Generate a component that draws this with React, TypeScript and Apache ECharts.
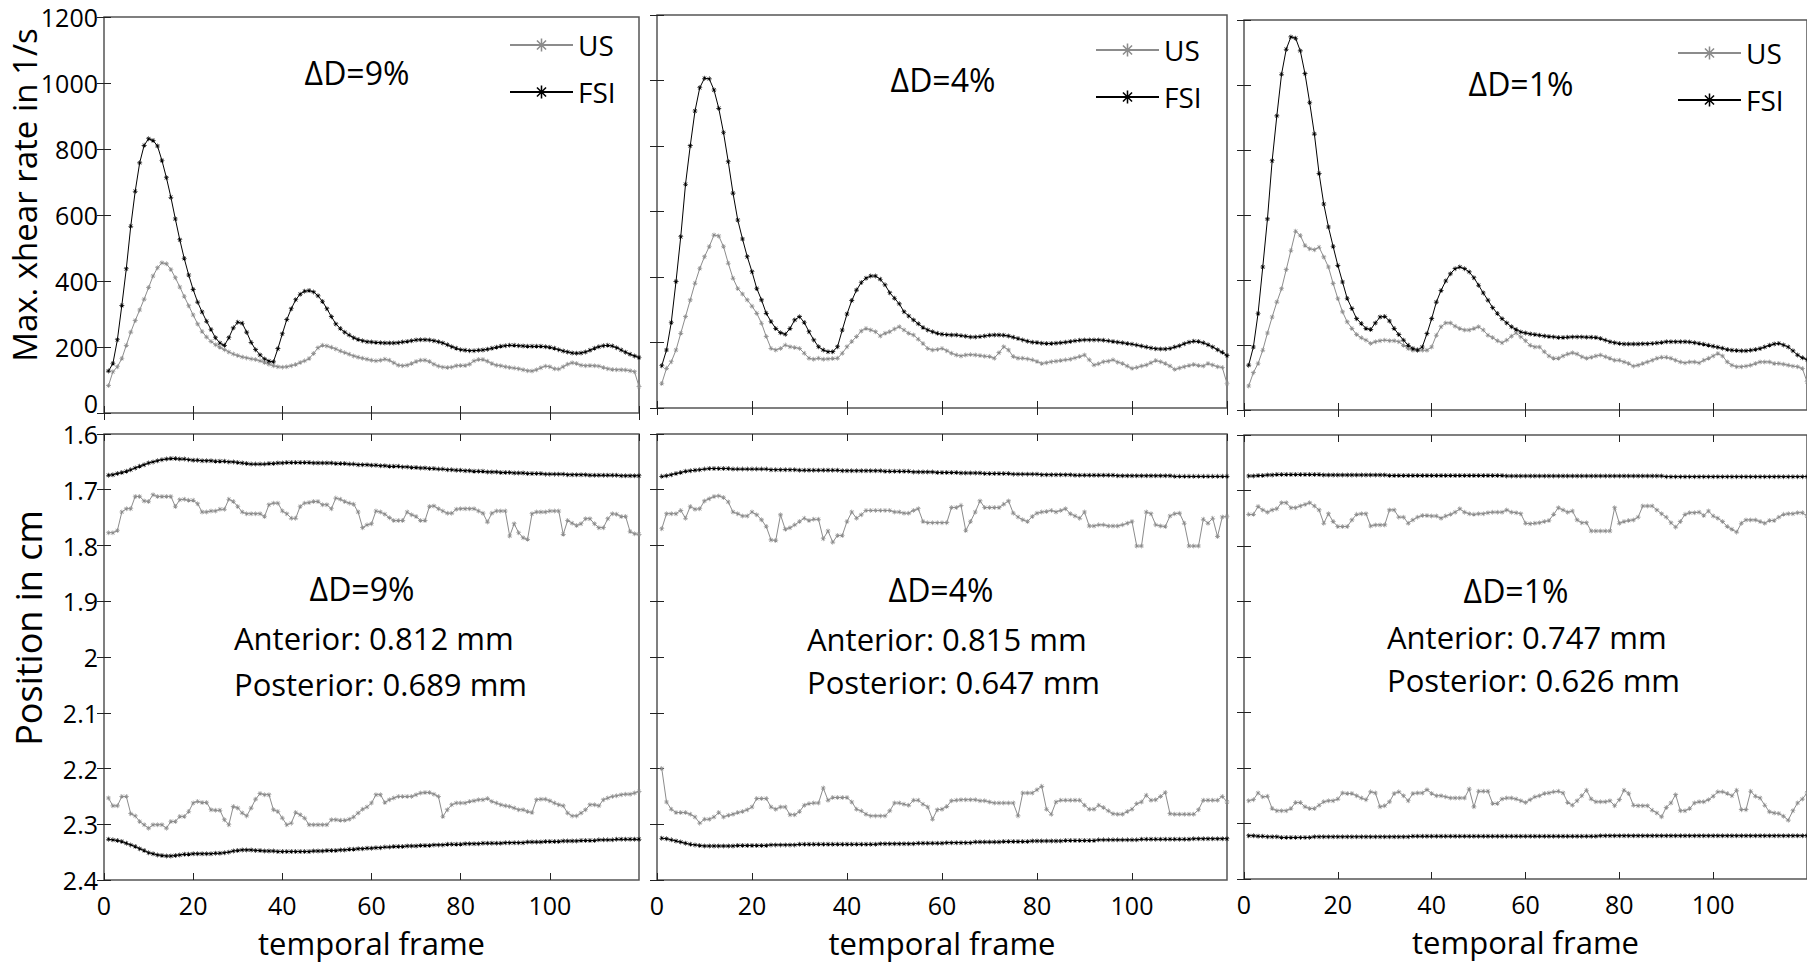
import React, { useEffect, useRef } from "react";
import * as echarts from "echarts";

// ---------------- data ----------------
const FRAMES: number[] = Array.from({ length: 120 }, (_, i) => i + 1);
const FRAME_TICKS = [0, 20, 40, 60, 80, 100, 120];
const RATE_TICKS = [0, 200, 400, 600, 800, 1000, 1200];
const POSITION_TICKS = [1.6, 1.7, 1.8, 1.9, 2.0, 2.1, 2.2, 2.3, 2.4];

const DELTA_LABELS = ["ΔD=9%", "ΔD=4%", "ΔD=1%"];
const ANTERIOR_MM = ["0.812", "0.815", "0.747"];
const POSTERIOR_MM = ["0.689", "0.647", "0.626"];
const SERIES_NAMES = ["US", "FSI"];

// Max. shear rate (1/s), ΔD = 9 %
const US_RATE_9 = [
  83, 125, 140, 165, 205, 245, 280, 312, 345, 380,
  415, 440, 455, 452, 435, 410, 382, 353, 325, 297,
  270, 247, 230, 217, 207, 199, 192, 185, 179, 174,
  170, 167, 164, 162, 158, 153, 148, 143, 140, 139,
  140, 143, 147, 153, 158, 165, 180, 198, 205, 203,
  199, 194, 188, 183, 178, 173, 169, 166, 163, 160,
  158, 160, 163, 160, 152, 145, 143, 145, 150, 156,
  160, 160, 156, 148, 142, 139, 138, 139, 143, 144,
  144, 148, 158, 162, 162, 157, 150, 145, 143, 140,
  138, 136, 134, 131, 128, 127, 131, 137, 142, 140,
  134, 133, 140, 148, 152, 150, 145, 143, 144, 143,
  142, 138, 134, 132, 131, 131, 130, 128, 125, 80,
];
const FSI_RATE_9 = [
  127, 150, 222, 326, 437, 566, 672, 758, 811, 831,
  826, 809, 765, 713, 654, 588, 525, 468, 418, 374,
  336, 306, 278, 253, 228, 212, 205, 228, 258, 275,
  272, 245, 214, 192, 176, 164, 157, 155, 195, 240,
  283, 316, 343, 360, 369, 371, 367, 355, 338, 316,
  292, 270, 256, 245, 236, 228, 223, 219, 216, 215,
  214, 213, 212, 212, 212, 213, 215, 217, 219, 221,
  222, 222, 221, 219, 216, 212, 207, 201, 196, 192,
  190, 189, 189, 190, 191, 193, 196, 199, 202, 204,
  205, 205, 204, 203, 202, 202, 202, 202, 201, 199,
  196, 192, 188, 185, 182, 181, 182, 185, 190, 196,
  201, 204, 205, 203, 198, 191, 184, 178, 173, 168,
];
// ΔD = 4 %
const US_RATE_4 = [
  75, 121, 141, 177, 228, 279, 330, 381, 426, 462,
  493, 528, 525, 493, 442, 396, 365, 348, 330, 311,
  289, 259, 218, 182, 177, 182, 192, 187, 185, 182,
  167, 152, 149, 152, 149, 150, 151, 152, 167, 187,
  203, 218, 235, 243, 238, 233, 220, 228, 233, 241,
  248, 238, 228, 223, 210, 197, 182, 177, 179, 182,
  175, 167, 162, 159, 162, 163, 162, 160, 158, 157,
  152, 169, 187, 177, 157, 152, 152, 150, 147, 142,
  136, 138, 141, 143, 145, 147, 149, 153, 157, 162,
  147, 131, 135, 141, 143, 147, 140, 136, 128, 121,
  124, 128, 131, 138, 145, 141, 136, 128, 118, 122,
  126, 130, 133, 130, 128, 136, 131, 126, 124, 75,
];
const FSI_RATE_4 = [
  129, 177, 261, 386, 523, 683, 801, 907, 978, 1007,
  1005, 971, 915, 841, 752, 656, 574, 516, 462, 416,
  365, 330, 289, 264, 243, 230, 225, 243, 269, 279,
  261, 233, 208, 187, 177, 172, 172, 187, 238, 287,
  328, 360, 383, 396, 403, 403, 393, 376, 352, 335,
  318, 294, 281, 269, 257, 246, 238, 233, 228, 225,
  224, 223, 223, 221, 219, 217, 217, 218, 220, 222,
  223, 223, 222, 220, 216, 212, 208, 204, 201, 200,
  198, 197, 197, 198, 199, 201, 203, 205, 207, 208,
  208, 208, 208, 207, 205, 203, 201, 199, 197, 195,
  192, 189, 186, 183, 181, 180, 180, 182, 186, 190,
  196, 201, 204, 203, 199, 193, 186, 178, 170, 160,
];
// ΔD = 1 %
const US_RATE_1 = [
  74, 115, 143, 184, 237, 286, 332, 373, 432, 491,
  550, 537, 506, 496, 493, 501, 471, 440, 389, 343,
  302, 271, 251, 232, 222, 215, 205, 210, 213, 215,
  213, 213, 210, 199, 189, 184, 186, 184, 184, 194,
  230, 256, 268, 268, 258, 251, 246, 246, 251, 256,
  246, 230, 223, 213, 207, 215, 227, 237, 225, 213,
  199, 194, 194, 179, 166, 159, 159, 166, 172, 176,
  172, 164, 159, 162, 166, 169, 164, 159, 153, 153,
  148, 143, 135, 138, 143, 148, 153, 159, 162, 162,
  159, 153, 148, 145, 148, 148, 145, 153, 159, 166,
  174, 166, 148, 138, 133, 133, 135, 138, 143, 148,
  148, 148, 143, 143, 141, 138, 135, 133, 128, 87,
];
const FSI_RATE_1 = [
  138, 194, 297, 440, 588, 767, 905, 1033, 1110, 1148,
  1144, 1105, 1035, 946, 849, 728, 634, 563, 503, 445,
  394, 343, 312, 281, 266, 251, 248, 268, 286, 288,
  274, 251, 232, 215, 199, 189, 184, 194, 235, 281,
  332, 368, 397, 419, 435, 440, 435, 425, 407, 384,
  360, 338, 315, 297, 281, 268, 256, 248, 240, 237,
  234, 232, 230, 228, 226, 225, 223, 223, 224, 225,
  225, 225, 224, 224, 223, 220, 215, 210, 207, 205,
  203, 203, 203, 203, 204, 204, 205, 206, 208, 210,
  210, 210, 210, 210, 209, 207, 205, 202, 199, 196,
  193, 190, 186, 184, 183, 182, 182, 184, 186, 189,
  194, 199, 203, 205, 200, 194, 182, 169, 161, 155,
];

// Wall position (cm), ΔD = 9 %
const US_ANT_9 = [
  1.777, 1.777, 1.773, 1.740, 1.734, 1.734, 1.712, 1.712, 1.720, 1.721,
  1.709, 1.712, 1.712, 1.712, 1.712, 1.730, 1.718, 1.717, 1.719, 1.719,
  1.725, 1.740, 1.740, 1.738, 1.738, 1.735, 1.735, 1.717, 1.721, 1.730,
  1.740, 1.743, 1.743, 1.743, 1.743, 1.748, 1.727, 1.724, 1.724, 1.738,
  1.743, 1.751, 1.751, 1.730, 1.724, 1.723, 1.721, 1.721, 1.727, 1.727,
  1.734, 1.715, 1.717, 1.721, 1.724, 1.726, 1.740, 1.768, 1.763, 1.761,
  1.738, 1.740, 1.744, 1.750, 1.755, 1.755, 1.755, 1.740, 1.745, 1.748,
  1.755, 1.755, 1.730, 1.729, 1.734, 1.738, 1.742, 1.742, 1.735, 1.734,
  1.734, 1.734, 1.734, 1.738, 1.742, 1.758, 1.742, 1.738, 1.738, 1.738,
  1.783, 1.761, 1.777, 1.786, 1.789, 1.743, 1.740, 1.740, 1.740, 1.738,
  1.738, 1.738, 1.780, 1.755, 1.760, 1.764, 1.761, 1.752, 1.752, 1.761,
  1.768, 1.768, 1.752, 1.743, 1.744, 1.748, 1.748, 1.775, 1.779, 1.780,
];
const FSI_ANT_9 = [
  1.674, 1.673, 1.671, 1.669, 1.667, 1.664, 1.661, 1.658, 1.655, 1.652,
  1.650, 1.648, 1.646, 1.645, 1.644, 1.644, 1.645, 1.645, 1.646, 1.647,
  1.647, 1.648, 1.648, 1.648, 1.649, 1.649, 1.649, 1.650, 1.650, 1.651,
  1.652, 1.653, 1.654, 1.654, 1.654, 1.654, 1.653, 1.653, 1.652, 1.652,
  1.651, 1.651, 1.651, 1.651, 1.651, 1.651, 1.652, 1.652, 1.652, 1.652,
  1.652, 1.653, 1.653, 1.653, 1.654, 1.654, 1.655, 1.655, 1.655, 1.656,
  1.656, 1.657, 1.657, 1.658, 1.658, 1.658, 1.659, 1.659, 1.660, 1.660,
  1.661, 1.661, 1.662, 1.662, 1.663, 1.663, 1.664, 1.664, 1.665, 1.665,
  1.666, 1.666, 1.667, 1.667, 1.667, 1.668, 1.668, 1.668, 1.669, 1.669,
  1.669, 1.670, 1.670, 1.670, 1.671, 1.671, 1.671, 1.671, 1.672, 1.672,
  1.672, 1.672, 1.672, 1.673, 1.673, 1.673, 1.673, 1.673, 1.674, 1.674,
  1.674, 1.674, 1.674, 1.674, 1.674, 1.675, 1.675, 1.675, 1.675, 1.675,
];
const US_POST_9 = [
  2.253, 2.267, 2.267, 2.250, 2.250, 2.281, 2.285, 2.295, 2.301, 2.307,
  2.301, 2.301, 2.301, 2.307, 2.295, 2.295, 2.286, 2.286, 2.277, 2.262,
  2.259, 2.261, 2.261, 2.274, 2.275, 2.275, 2.292, 2.301, 2.268, 2.271,
  2.280, 2.285, 2.271, 2.255, 2.245, 2.247, 2.247, 2.274, 2.277, 2.289,
  2.301, 2.298, 2.279, 2.283, 2.289, 2.301, 2.301, 2.301, 2.301, 2.301,
  2.292, 2.292, 2.293, 2.293, 2.291, 2.287, 2.280, 2.273, 2.269, 2.262,
  2.247, 2.247, 2.261, 2.256, 2.253, 2.250, 2.250, 2.250, 2.250, 2.247,
  2.244, 2.243, 2.243, 2.246, 2.250, 2.286, 2.274, 2.265, 2.262, 2.262,
  2.262, 2.259, 2.258, 2.256, 2.256, 2.254, 2.259, 2.262, 2.265, 2.267,
  2.268, 2.271, 2.274, 2.274, 2.277, 2.279, 2.256, 2.255, 2.255, 2.258,
  2.262, 2.265, 2.267, 2.280, 2.285, 2.285, 2.280, 2.274, 2.265, 2.265,
  2.267, 2.256, 2.253, 2.250, 2.249, 2.247, 2.246, 2.246, 2.244, 2.241,
];
const FSI_POST_9 = [
  2.327, 2.328, 2.329, 2.331, 2.334, 2.337, 2.340, 2.344, 2.347, 2.351,
  2.353, 2.355, 2.356, 2.357, 2.357, 2.356, 2.355, 2.354, 2.354, 2.353,
  2.353, 2.353, 2.353, 2.353, 2.352, 2.352, 2.351, 2.350, 2.348, 2.347,
  2.346, 2.346, 2.346, 2.347, 2.347, 2.348, 2.348, 2.348, 2.349, 2.349,
  2.349, 2.349, 2.349, 2.349, 2.349, 2.349, 2.348, 2.348, 2.348, 2.347,
  2.347, 2.347, 2.346, 2.346, 2.345, 2.345, 2.344, 2.344, 2.343, 2.343,
  2.342, 2.342, 2.341, 2.341, 2.340, 2.340, 2.340, 2.339, 2.339, 2.339,
  2.338, 2.338, 2.338, 2.337, 2.337, 2.337, 2.336, 2.336, 2.336, 2.336,
  2.335, 2.335, 2.335, 2.335, 2.334, 2.334, 2.334, 2.334, 2.334, 2.333,
  2.333, 2.333, 2.333, 2.333, 2.332, 2.332, 2.332, 2.332, 2.331, 2.331,
  2.331, 2.331, 2.330, 2.330, 2.330, 2.330, 2.329, 2.329, 2.329, 2.329,
  2.328, 2.328, 2.328, 2.328, 2.327, 2.327, 2.327, 2.327, 2.327, 2.327,
];
// ΔD = 4 %
const US_ANT_4 = [
  1.770, 1.743, 1.743, 1.743, 1.737, 1.751, 1.730, 1.735, 1.734, 1.720,
  1.716, 1.712, 1.711, 1.714, 1.722, 1.740, 1.743, 1.747, 1.747, 1.740,
  1.745, 1.754, 1.766, 1.790, 1.791, 1.745, 1.771, 1.768, 1.763, 1.757,
  1.751, 1.755, 1.753, 1.753, 1.788, 1.774, 1.794, 1.782, 1.782, 1.757,
  1.740, 1.751, 1.745, 1.737, 1.737, 1.737, 1.737, 1.737, 1.737, 1.740,
  1.740, 1.742, 1.742, 1.737, 1.734, 1.757, 1.759, 1.759, 1.759, 1.759,
  1.759, 1.732, 1.732, 1.728, 1.773, 1.757, 1.740, 1.720, 1.732, 1.732,
  1.732, 1.732, 1.726, 1.720, 1.742, 1.749, 1.754, 1.757, 1.748, 1.742,
  1.740, 1.739, 1.737, 1.740, 1.737, 1.734, 1.743, 1.747, 1.751, 1.740,
  1.765, 1.765, 1.763, 1.763, 1.765, 1.765, 1.765, 1.763, 1.760, 1.757,
  1.801, 1.801, 1.740, 1.743, 1.763, 1.765, 1.766, 1.747, 1.743, 1.742,
  1.760, 1.801, 1.801, 1.801, 1.753, 1.760, 1.751, 1.784, 1.749, 1.748,
];
const FSI_ANT_4 = [
  1.676, 1.675, 1.673, 1.671, 1.669, 1.667, 1.666, 1.665, 1.664, 1.663,
  1.662, 1.662, 1.662, 1.662, 1.662, 1.663, 1.663, 1.663, 1.663, 1.663,
  1.663, 1.663, 1.663, 1.664, 1.664, 1.664, 1.664, 1.664, 1.664, 1.665,
  1.665, 1.665, 1.665, 1.665, 1.665, 1.665, 1.665, 1.665, 1.666, 1.666,
  1.666, 1.666, 1.666, 1.666, 1.666, 1.666, 1.666, 1.667, 1.667, 1.667,
  1.667, 1.667, 1.667, 1.668, 1.668, 1.668, 1.668, 1.668, 1.669, 1.669,
  1.669, 1.669, 1.669, 1.670, 1.670, 1.670, 1.670, 1.670, 1.671, 1.671,
  1.671, 1.671, 1.671, 1.671, 1.672, 1.672, 1.672, 1.672, 1.672, 1.672,
  1.673, 1.673, 1.673, 1.673, 1.673, 1.673, 1.673, 1.674, 1.674, 1.674,
  1.674, 1.674, 1.674, 1.674, 1.674, 1.674, 1.675, 1.675, 1.675, 1.675,
  1.675, 1.675, 1.675, 1.675, 1.675, 1.675, 1.675, 1.675, 1.676, 1.676,
  1.676, 1.676, 1.676, 1.676, 1.676, 1.676, 1.676, 1.676, 1.676, 1.676,
];
const US_POST_4 = [
  2.200, 2.260, 2.273, 2.279, 2.279, 2.279, 2.282, 2.287, 2.298, 2.291,
  2.291, 2.287, 2.279, 2.287, 2.284, 2.282, 2.279, 2.277, 2.274, 2.269,
  2.254, 2.254, 2.254, 2.269, 2.273, 2.269, 2.269, 2.283, 2.283, 2.277,
  2.266, 2.263, 2.262, 2.262, 2.235, 2.257, 2.252, 2.252, 2.252, 2.252,
  2.260, 2.273, 2.276, 2.282, 2.285, 2.285, 2.285, 2.285, 2.276, 2.262,
  2.262, 2.264, 2.266, 2.257, 2.257, 2.264, 2.269, 2.291, 2.274, 2.273,
  2.268, 2.258, 2.257, 2.256, 2.256, 2.256, 2.256, 2.258, 2.258, 2.260,
  2.262, 2.262, 2.262, 2.262, 2.262, 2.285, 2.244, 2.244, 2.244, 2.238,
  2.232, 2.273, 2.282, 2.260, 2.257, 2.257, 2.257, 2.257, 2.257, 2.266,
  2.273, 2.273, 2.266, 2.270, 2.276, 2.281, 2.282, 2.282, 2.277, 2.273,
  2.263, 2.260, 2.248, 2.257, 2.256, 2.250, 2.243, 2.281, 2.282, 2.282,
  2.282, 2.282, 2.282, 2.274, 2.257, 2.257, 2.257, 2.257, 2.250, 2.260,
];
const FSI_POST_4 = [
  2.325, 2.326, 2.328, 2.330, 2.332, 2.334, 2.336, 2.337, 2.338, 2.339,
  2.339, 2.339, 2.339, 2.339, 2.339, 2.339, 2.338, 2.338, 2.338, 2.338,
  2.338, 2.338, 2.338, 2.337, 2.337, 2.337, 2.337, 2.337, 2.337, 2.336,
  2.336, 2.336, 2.336, 2.336, 2.336, 2.336, 2.336, 2.336, 2.336, 2.336,
  2.336, 2.336, 2.336, 2.336, 2.336, 2.336, 2.335, 2.335, 2.335, 2.335,
  2.335, 2.335, 2.335, 2.335, 2.334, 2.334, 2.334, 2.334, 2.334, 2.334,
  2.333, 2.333, 2.333, 2.333, 2.333, 2.333, 2.332, 2.332, 2.332, 2.332,
  2.332, 2.332, 2.331, 2.331, 2.331, 2.331, 2.331, 2.331, 2.330, 2.330,
  2.330, 2.330, 2.330, 2.330, 2.330, 2.329, 2.329, 2.329, 2.329, 2.329,
  2.329, 2.329, 2.328, 2.328, 2.328, 2.328, 2.328, 2.328, 2.328, 2.328,
  2.328, 2.327, 2.327, 2.327, 2.327, 2.327, 2.327, 2.327, 2.327, 2.327,
  2.327, 2.327, 2.326, 2.326, 2.326, 2.326, 2.326, 2.326, 2.326, 2.326,
];
// ΔD = 1 %
const US_ANT_1 = [
  1.743, 1.743, 1.729, 1.735, 1.739, 1.735, 1.733, 1.722, 1.722, 1.731,
  1.731, 1.728, 1.725, 1.722, 1.728, 1.735, 1.759, 1.742, 1.756, 1.765,
  1.765, 1.765, 1.753, 1.743, 1.742, 1.742, 1.764, 1.762, 1.762, 1.762,
  1.735, 1.735, 1.748, 1.748, 1.759, 1.753, 1.748, 1.745, 1.745, 1.746,
  1.746, 1.750, 1.746, 1.743, 1.739, 1.733, 1.739, 1.742, 1.743, 1.742,
  1.742, 1.740, 1.739, 1.739, 1.739, 1.735, 1.739, 1.740, 1.742, 1.759,
  1.760, 1.759, 1.758, 1.756, 1.754, 1.743, 1.731, 1.735, 1.739, 1.737,
  1.753, 1.758, 1.758, 1.773, 1.773, 1.773, 1.773, 1.773, 1.731, 1.759,
  1.756, 1.754, 1.753, 1.748, 1.728, 1.728, 1.728, 1.735, 1.742, 1.748,
  1.758, 1.766, 1.756, 1.743, 1.740, 1.740, 1.739, 1.745, 1.737, 1.746,
  1.750, 1.756, 1.765, 1.770, 1.775, 1.759, 1.753, 1.753, 1.753, 1.756,
  1.759, 1.754, 1.754, 1.748, 1.743, 1.742, 1.742, 1.740, 1.740, 1.746,
];
const FSI_ANT_1 = [
  1.674, 1.674, 1.673, 1.673, 1.672, 1.672, 1.671, 1.671, 1.671, 1.671,
  1.671, 1.671, 1.671, 1.671, 1.671, 1.671, 1.672, 1.672, 1.672, 1.672,
  1.672, 1.672, 1.672, 1.672, 1.672, 1.672, 1.672, 1.672, 1.672, 1.672,
  1.673, 1.673, 1.673, 1.673, 1.673, 1.673, 1.673, 1.673, 1.673, 1.673,
  1.673, 1.673, 1.673, 1.673, 1.673, 1.673, 1.673, 1.673, 1.673, 1.673,
  1.673, 1.673, 1.673, 1.673, 1.673, 1.674, 1.674, 1.674, 1.674, 1.674,
  1.674, 1.674, 1.674, 1.674, 1.674, 1.674, 1.674, 1.674, 1.674, 1.674,
  1.674, 1.674, 1.674, 1.674, 1.674, 1.674, 1.674, 1.674, 1.674, 1.674,
  1.674, 1.674, 1.674, 1.674, 1.674, 1.674, 1.674, 1.674, 1.674, 1.675,
  1.675, 1.675, 1.675, 1.675, 1.675, 1.675, 1.675, 1.675, 1.675, 1.675,
  1.675, 1.675, 1.675, 1.675, 1.675, 1.675, 1.675, 1.675, 1.675, 1.675,
  1.675, 1.675, 1.675, 1.675, 1.675, 1.675, 1.675, 1.675, 1.675, 1.675,
];
const US_POST_1 = [
  2.259, 2.257, 2.245, 2.252, 2.251, 2.273, 2.277, 2.277, 2.277, 2.273,
  2.262, 2.262, 2.270, 2.273, 2.273, 2.267, 2.261, 2.259, 2.259, 2.256,
  2.245, 2.246, 2.246, 2.250, 2.254, 2.257, 2.243, 2.245, 2.270, 2.268,
  2.261, 2.246, 2.243, 2.250, 2.259, 2.246, 2.245, 2.245, 2.239, 2.246,
  2.250, 2.250, 2.252, 2.254, 2.254, 2.254, 2.254, 2.238, 2.270, 2.242,
  2.242, 2.242, 2.264, 2.264, 2.256, 2.254, 2.254, 2.256, 2.259, 2.262,
  2.257, 2.252, 2.250, 2.246, 2.245, 2.243, 2.242, 2.245, 2.262, 2.267,
  2.259, 2.250, 2.240, 2.256, 2.261, 2.261, 2.261, 2.259, 2.268, 2.257,
  2.240, 2.246, 2.267, 2.268, 2.268, 2.268, 2.276, 2.281, 2.288, 2.271,
  2.263, 2.248, 2.277, 2.277, 2.273, 2.263, 2.261, 2.261, 2.257, 2.251,
  2.243, 2.243, 2.246, 2.250, 2.240, 2.275, 2.275, 2.242, 2.251, 2.254,
  2.267, 2.279, 2.281, 2.282, 2.287, 2.294, 2.277, 2.263, 2.256, 2.245,
];
const FSI_POST_1 = [
  2.322, 2.322, 2.323, 2.323, 2.324, 2.324, 2.324, 2.325, 2.325, 2.325,
  2.325, 2.325, 2.325, 2.325, 2.324, 2.324, 2.324, 2.324, 2.324, 2.324,
  2.324, 2.324, 2.324, 2.324, 2.324, 2.324, 2.324, 2.324, 2.324, 2.324,
  2.324, 2.324, 2.324, 2.324, 2.324, 2.323, 2.323, 2.323, 2.323, 2.323,
  2.323, 2.323, 2.323, 2.323, 2.323, 2.323, 2.323, 2.323, 2.323, 2.323,
  2.323, 2.323, 2.323, 2.323, 2.323, 2.323, 2.323, 2.323, 2.323, 2.323,
  2.323, 2.323, 2.323, 2.323, 2.323, 2.323, 2.323, 2.323, 2.323, 2.323,
  2.323, 2.323, 2.323, 2.323, 2.323, 2.322, 2.322, 2.322, 2.322, 2.322,
  2.322, 2.322, 2.322, 2.322, 2.322, 2.322, 2.322, 2.322, 2.322, 2.322,
  2.322, 2.322, 2.322, 2.322, 2.322, 2.322, 2.322, 2.322, 2.322, 2.322,
  2.322, 2.322, 2.322, 2.322, 2.322, 2.322, 2.322, 2.322, 2.322, 2.322,
  2.322, 2.322, 2.322, 2.322, 2.322, 2.322, 2.322, 2.322, 2.322, 2.322,
];

const US_RATES = [US_RATE_9, US_RATE_4, US_RATE_1];
const FSI_RATES = [FSI_RATE_9, FSI_RATE_4, FSI_RATE_1];
const US_ANTS = [US_ANT_9, US_ANT_4, US_ANT_1];
const FSI_ANTS = [FSI_ANT_9, FSI_ANT_4, FSI_ANT_1];
const US_POSTS = [US_POST_9, US_POST_4, US_POST_1];
const FSI_POSTS = [FSI_POST_9, FSI_POST_4, FSI_POST_1];

// ---------------- layout & style ----------------
const W = 1807;
const H = 963;
const FONT = "'Open Sans', 'Noto Sans', 'DejaVu Sans', sans-serif";
const FRAME_COLOR = "#555555";
const TICK_COLOR = "#222222";
const US_COLOR = "#8c8c8c";
const FSI_COLOR = "#000000";
const STAR =
  "path://M4.4 0L5.6 0L5.6 10L4.4 10Z M0 4.4L10 4.4L10 5.6L0 5.6Z M1.04 1.88L1.88 1.04L8.96 8.12L8.12 8.96Z M8.12 1.04L8.96 1.88L1.88 8.96L1.04 8.12Z";

const TOP_GRIDS = [
  { left: 104, top: 17, width: 535, height: 396 },
  { left: 657, top: 15, width: 570, height: 393 },
  { left: 1244, top: 20, width: 563, height: 390 },
];
const BOTTOM_GRIDS = [
  { left: 104, top: 434, width: 535, height: 446 },
  { left: 657, top: 434, width: 570, height: 446 },
  { left: 1244, top: 435, width: 563, height: 444 },
];
const LEGEND_POS = [
  { left: 509, top: 31 },
  { left: 1095, top: 36 },
  { left: 1677, top: 39 },
];
const TOP_LABEL_POS = [
  [357, 72],
  [943, 79],
  [1521, 83],
];
const BOTTOM_LABEL_POS = [
  [362, 588],
  [941, 589],
  [1516, 590],
];
const TEXT_LEFT = [234, 807, 1387];
const ANT_Y = [638, 639, 637];
const POST_Y = [684, 682, 680];

function buildOption() {
  const grids: any[] = [];
  const xAxes: any[] = [];
  const yAxes: any[] = [];
  const series: any[] = [];

  const allGrids = [...TOP_GRIDS, ...BOTTOM_GRIDS];
  allGrids.forEach((g) => {
    grids.push({
      ...g,
      show: true,
      borderColor: FRAME_COLOR,
      borderWidth: 1.5,
      backgroundColor: "transparent",
      containLabel: false,
      outerBoundsMode: "none",
    });
  });

  const tick = { show: true, inside: true, length: 7, lineStyle: { color: TICK_COLOR, width: 1 } };
  const labelStyle = { fontFamily: FONT, fontSize: 25, color: "#000" };

  // main x axes
  allGrids.forEach((_, i) => {
    const isBottom = i >= 3;
    xAxes.push({
      gridIndex: i,
      type: "value",
      position: "bottom",
      min: FRAME_TICKS[0],
      max: FRAME_TICKS[FRAME_TICKS.length - 1],
      interval: FRAME_TICKS[1] - FRAME_TICKS[0],
      axisLine: { show: false },
      axisTick: tick,
      splitLine: { show: false },
      axisLabel: isBottom
        ? { show: true, ...labelStyle, margin: 12, showMaxLabel: false }
        : { show: false },
      name: isBottom ? "temporal frame" : "",
      nameLocation: "middle",
      nameGap: 47,
      nameTextStyle: { fontFamily: FONT, fontSize: 31, color: "#000" },
    });
  });
  // mirrored top x axes
  allGrids.forEach((_, i) => {
    xAxes.push({
      gridIndex: i,
      type: "value",
      position: "top",
      min: FRAME_TICKS[0],
      max: FRAME_TICKS[FRAME_TICKS.length - 1],
      interval: FRAME_TICKS[1] - FRAME_TICKS[0],
      axisLine: { show: false },
      axisTick: tick,
      splitLine: { show: false },
      axisLabel: { show: false },
    });
  });

  const yScale = (i: number) =>
    i < 3
      ? {
          min: RATE_TICKS[0],
          max: RATE_TICKS[RATE_TICKS.length - 1],
          interval: RATE_TICKS[1] - RATE_TICKS[0],
          inverse: false,
        }
      : {
          min: POSITION_TICKS[0],
          max: POSITION_TICKS[POSITION_TICKS.length - 1],
          interval: 0.1,
          inverse: true,
        };

  allGrids.forEach((_, i) => {
    let axisLabel: any = { show: false };
    if (i === 0) {
      axisLabel = {
        show: true,
        ...labelStyle,
        margin: 6,
        formatter: (v: number) => (v === 0 ? "{z|0}" : String(v)),
        rich: { z: { fontFamily: FONT, fontSize: 25, color: "#000", padding: [0, 0, 20, 0] } },
      };
    } else if (i === 3) {
      axisLabel = {
        show: true,
        ...labelStyle,
        margin: 6,
        formatter: (v: number) => String(Math.round(v * 10) / 10),
      };
    }
    yAxes.push({
      gridIndex: i,
      type: "value",
      position: "left",
      ...yScale(i),
      axisLine: { show: false },
      axisTick: tick,
      splitLine: { show: false },
      axisLabel,
    });
  });
  allGrids.forEach((_, i) => {
    yAxes.push({
      gridIndex: i,
      type: "value",
      position: "right",
      ...yScale(i),
      axisLine: { show: false },
      axisTick: tick,
      splitLine: { show: false },
      axisLabel: { show: false },
    });
  });

  const mk = (name: string, color: string, idx: number, values: number[], size: number) => ({
    name,
    type: "line",
    xAxisIndex: idx,
    yAxisIndex: idx,
    data: FRAMES.map((f, k) => [f, values[k]]),
    symbol: STAR,
    symbolSize: size,
    showSymbol: true,
    showAllSymbol: true,
    lineStyle: { color, width: 1 },
    itemStyle: { color },
    emphasis: { disabled: true },
    silent: true,
    clip: true,
  });

  for (let p = 0; p < 3; p++) {
    series.push(mk(SERIES_NAMES[0], US_COLOR, p, US_RATES[p], 5));
    series.push(mk(SERIES_NAMES[1], FSI_COLOR, p, FSI_RATES[p], 5));
    series.push(mk(SERIES_NAMES[0], US_COLOR, p + 3, US_ANTS[p], 5));
    series.push(mk(SERIES_NAMES[0], US_COLOR, p + 3, US_POSTS[p], 5));
    series.push(mk(SERIES_NAMES[1], FSI_COLOR, p + 3, FSI_ANTS[p], 5));
    series.push(mk(SERIES_NAMES[1], FSI_COLOR, p + 3, FSI_POSTS[p], 5));
  }

  const legends = LEGEND_POS.map((pos) => ({
    data: SERIES_NAMES,
    orient: "vertical",
    left: pos.left,
    top: pos.top,
    padding: 0,
    itemWidth: 63,
    itemHeight: 16,
    itemGap: 19,
    selectedMode: false,
    textStyle: { fontFamily: FONT, fontSize: 28, color: "#000" },
  }));

  const txt = (text: string, x: number, y: number, size: number, align: string, rotation = 0) => ({
    type: "text",
    x,
    y,
    rotation,
    silent: true,
    style: {
      text,
      fontFamily: FONT,
      fontSize: size,
      fill: "#000",
      align,
      verticalAlign: "middle",
    },
  });

  const graphic: any[] = [
    txt("Max. xhear rate in 1/s", 24, 195, 33, "center", Math.PI / 2),
    txt("Position in cm", 28, 628, 36, "center", Math.PI / 2),
  ];
  for (let p = 0; p < 3; p++) {
    graphic.push(txt(DELTA_LABELS[p], TOP_LABEL_POS[p][0], TOP_LABEL_POS[p][1], 32, "center"));
    graphic.push(txt(DELTA_LABELS[p], BOTTOM_LABEL_POS[p][0], BOTTOM_LABEL_POS[p][1], 32, "center"));
    graphic.push(txt(`Anterior: ${ANTERIOR_MM[p]} mm`, TEXT_LEFT[p], ANT_Y[p], 31, "left"));
    graphic.push(txt(`Posterior: ${POSTERIOR_MM[p]} mm`, TEXT_LEFT[p], POST_Y[p], 31, "left"));
  }

  return {
    animation: false,
    backgroundColor: "#ffffff",
    grid: grids,
    xAxis: xAxes,
    yAxis: yAxes,
    legend: legends,
    series,
    graphic,
  };
}

export default function App() {
  const ref = useRef<HTMLDivElement>(null);
  useEffect(() => {
    if (!ref.current) return;
    const chart = echarts.init(ref.current, null, { renderer: "svg" });
    chart.setOption(buildOption() as any);
    return () => chart.dispose();
  }, []);
  return (
    <div
      ref={ref}
      style={{ position: "fixed", left: 0, top: 0, width: W, height: H, background: "#fff" }}
    />
  );
}
